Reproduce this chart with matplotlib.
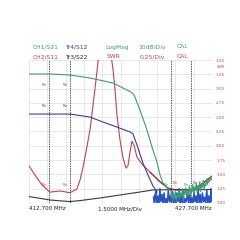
import matplotlib
matplotlib.use("Agg")
import matplotlib.pyplot as plt
import numpy as np

# sweep settings
f_start = 412.7
f_stop = 427.7
f_div = 1.5
markers = [414.34, 416.06, 424.34, 425.98]

# CH1/S21 LogMag (dB)
s21_f = [412.70, 414.42, 416.06, 417.70, 419.59, 420.57, 421.06, 421.31, 421.80, 422.37, 422.86, 423.19, 423.44, 423.68, 424.01, 424.34]
s21_db = [-9.8, -9.8, -10.5, -12.6, -16.1, -20.3, -22.4, -24.5, -35.0, -49.0, -63.0, -71.3, -80.4, -86.0, -89.5, -91.6]
s21_noise = [-94, -97, -93, -98, -95, -92, -99, -94, -96, -91, -97, -93, -95, -90, -98, -92,
             -94, -89, -96, -91, -93, -88, -95, -90, -92, -87, -94, -89, -91, -86, -93, -88,
             -90, -85, -92, -87, -89, -84, -91, -86, -88, -83, -87, -84, -85, -82, -84, -83]

# Tr4/S12 LogMag (dB)
s12_f = [412.70, 414.42, 416.06, 417.70, 418.77, 419.91, 420.98, 421.22, 421.55, 422.04, 422.45, 422.86, 423.19]
s12_db = [-37.8, -37.8, -37.8, -39.9, -43.4, -46.9, -50.3, -51.7, -59.4, -72.0, -80.4, -88.1, -92.3]
s12_noise = [-96, -101, -92, -100, -95, -102, -90, -99, -94, -101, -93, -100, -97, -102, -91, -99,
             -95, -101, -92, -100, -96, -102, -93, -99, -90, -101, -95, -100, -92, -102, -97, -99,
             -91, -101, -94, -100, -96, -102, -92, -99, -95, -101, -89, -100, -94, -102, -93, -99,
             -96, -101, -91, -100, -95, -102, -90, -99]

# Tr3/S22 LogMag (dB)
s22_f = [412.70, 414.42, 416.06, 416.88, 418.52, 420.16, 421.80, 422.86, 424.50, 427.70]
s22_db = [-95.5, -97.9, -99.0, -98.3, -96.5, -94.4, -92.3, -90.9, -90.7, -90.6]

# CH2/S11 SWR
swr_f = [412.70, 413.19, 413.77, 414.42, 415.24, 416.06, 416.63, 416.88, 417.13, 417.37, 417.70, 417.95,
         418.19, 418.36, 418.85, 419.42, 419.59, 419.75, 419.91, 420.16, 420.40, 420.65, 420.81, 420.98,
         421.14, 421.31, 421.55, 422.04, 422.62, 423.44, 424.09, 424.67, 425.90, 426.72, 427.70]
swr = [1.647, 1.49, 1.315, 1.19, 1.21, 1.18, 1.245, 1.40, 1.63, 1.89, 2.28, 2.71,
       3.15, 3.47, 4.2, 3.59, 3.33, 2.98, 2.54, 2.10, 1.79, 1.61, 1.65, 1.89,
       2.08, 2.01, 1.80, 1.66, 1.54, 1.37, 1.26, 1.23, 1.23, 1.31, 1.47]

swr_ticks = [1.00, 1.25, 1.50, 1.75, 2.00, 2.25, 2.50, 2.75, 3.00, 3.25, 3.50]

green = "#3c9c72"
red = "#c04058"
blue = "#3a3c9c"
nblue = "#2452c8"

fig = plt.figure(figsize=(2.4, 2.4), dpi=100)
ax = fig.add_axes([29/240, 1-203/240, 183/240, 143/240])
axd = ax.twinx()
axd.set_ylim(-100, 0)
axd.axis("off")

ax.set_xlim(f_start, f_stop)
ax.set_ylim(1.0, 3.5)
ax.set_xticks(np.arange(f_start, f_stop + 0.01, f_div))
ax.set_yticks(swr_ticks)
ax.set_yticklabels([f"{t:.2f}" for t in swr_ticks])
ax.grid(True, color="#e4e4e4", lw=0.6)
ax.yaxis.tick_right()
ax.tick_params(length=0, labelbottom=False, labelsize=3, labelcolor=red, pad=3)
for s in ax.spines.values():
    s.set_visible(False)
ax.set_axisbelow(True)

for m in markers:
    ax.axvline(m, color="#555555", lw=0.7, ls=(0, (1.5, 1)))

axd.plot(s22_f, s22_db, color="#3a3a3a", lw=0.8)
nf = np.linspace(422.9, f_stop, len(s12_noise))
axd.plot(s12_f + list(nf), s12_db + s12_noise, color=blue, lw=0.8)
axd.plot(nf, s12_noise, color=nblue, lw=0.9)
gf = np.linspace(424.34, f_stop, len(s21_noise))
axd.plot(s21_f + list(gf), s21_db + s21_noise, color=green, lw=0.8)
ax.plot(swr_f, swr, color=red, lw=0.8)
ax.plot(swr_f[28:], swr[28:], color="#8a3030", lw=0.8)

# marker labels
for m in markers[:2]:
    axd.text(m - 0.2, -18, "Mkr", fontsize=2, color="#555555", ha="right")
    axd.text(m - 0.2, -33, "Mkr", fontsize=2, color=blue, ha="right")
    ax.text(m - 0.2, 1.30, "Mkr", fontsize=2, color=red, ha="right")
for m in markers[2:]:
    ax.text(m + 0.15, 1.33, "Mkr", fontsize=2, color=red, ha="left")
    axd.text(m - 0.2, -88, "Mkr", fontsize=2, color=green, ha="right")

ax.text(1.025, 0.951, "SWR", transform=ax.transAxes, fontsize=2.5, color=red, va="center")

# header
fs = 4.3
fig.text(33/240, 1-47/240, "CH1/S21", fontsize=fs, color=green, va="center")
fig.text(33/240, 1-57/240, "CH2/S11", fontsize=fs, color=red, va="center")
fig.text(65/240, 1-47/240, "Tr4/S12", fontsize=fs, color=blue, va="center")
fig.text(65/240, 1-57/240, "Tr3/S22", fontsize=fs, color="#222222", va="center")
fig.text(105/240, 1-47/240, "LogMag", fontsize=fs, color=green, va="center")
fig.text(107/240, 1-57/240, "SWR", fontsize=fs, color=red, va="center")
fig.text(138/240, 1-47/240, "10dB/Div", fontsize=fs, color=green, va="center")
fig.text(140/240, 1-57/240, "0.25/Div", fontsize=fs, color=red, va="center")
fig.text(177/240, 1-47/240, "CAL", fontsize=fs, color=green, va="center")
fig.text(177/240, 1-57/240, "CAL", fontsize=fs, color=red, va="center")

# footer
fs2 = 4.1
fig.text(29/240, 1-209/240, "412.700 MHz", fontsize=fs2, color="#222222", va="center")
fig.text(120/240, 1-209/240, "1.5000 MHz/Div", fontsize=fs2, color="#222222", va="center", ha="center")
fig.text(212/240, 1-209/240, "427.700 MHz", fontsize=fs2, color="#222222", va="center", ha="right")

fig.savefig("out.png", dpi=100, facecolor="white")
